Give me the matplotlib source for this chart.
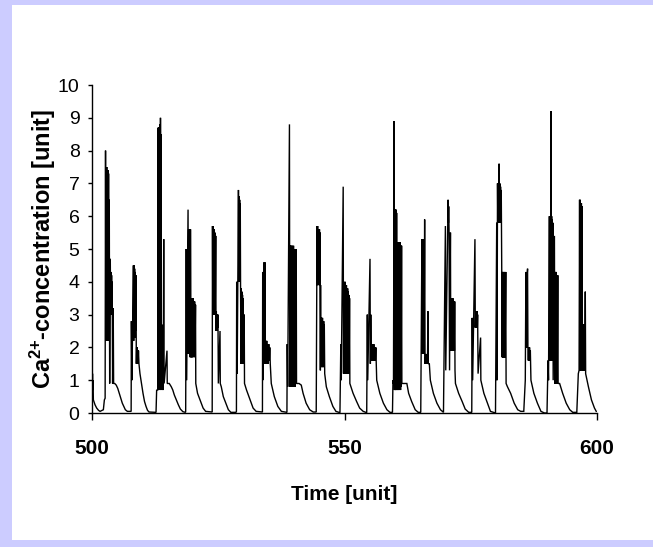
import matplotlib
matplotlib.use("Agg")
import matplotlib.pyplot as plt
from matplotlib.patches import Rectangle

# ---------------- data (time, Ca2+ concentration) ----------------
start = [(500.0, 1.1), (500.05, 0.6), (500.1, 1.2), (500.15, 0.7), (500.2, 1.0), (500.27, 0.4),
         (500.6, 0.25), (500.93, 0.15), (501.3, 0.08), (501.6, 0.05), (502.25, 0.1)]
burst01 = [(502.45, 0.4), (502.6, 0.45), (502.68, 8.0), (502.74, 2.2), (502.8, 7.5), (502.86, 2.3),
           (502.92, 7.5), (502.98, 2.2), (503.04, 7.4), (503.1, 2.4), (503.16, 7.4), (503.22, 2.2),
           (503.28, 7.3), (503.34, 2.3), (503.42, 6.5), (503.5, 0.9), (503.62, 4.7), (503.7, 3.0),
           (503.76, 4.3), (503.82, 3.1), (503.88, 4.2), (503.94, 3.0), (504.0, 4.0), (504.08, 0.9),
           (504.2, 3.2), (504.28, 0.9), (504.5, 0.9), (504.8, 0.85), (505.1, 0.75), (505.4, 0.6),
           (505.7, 0.45), (506.0, 0.3), (506.3, 0.2), (506.6, 0.1), (507.0, 0.05), (507.6, 0.05)]
burst02 = [(507.75, 0.05), (507.8, 2.8), (507.9, 1.0), (508.2, 4.5), (508.26, 2.2), (508.32, 4.5),
           (508.38, 2.4), (508.44, 4.4), (508.5, 2.3), (508.56, 4.3), (508.62, 2.5), (508.7, 4.2),
           (508.78, 1.5), (508.84, 2.0), (508.9, 1.5), (508.96, 2.0), (509.02, 1.5), (509.08, 1.9),
           (509.14, 1.6), (509.2, 1.9), (509.3, 1.5), (509.5, 1.2), (509.8, 0.9), (510.1, 0.6),
           (510.4, 0.35), (510.7, 0.2), (511.0, 0.08), (511.3, 0.03), (512.6, 0.02)]
burst03 = [(512.68, 0.02), (512.8, 0.7), (513.05, 0.7), (513.1, 8.7), (513.16, 0.7), (513.22, 8.7),
           (513.28, 0.8), (513.34, 8.6), (513.4, 1.0), (513.46, 8.8), (513.52, 0.7), (513.56, 9.0),
           (513.62, 2.7), (513.68, 8.5), (513.74, 0.8), (513.8, 2.7), (513.86, 0.7), (513.92, 2.5),
           (513.98, 0.8), (514.04, 2.2), (514.1, 0.7), (514.2, 5.3), (514.28, 0.9), (514.85, 1.9),
           (514.9, 0.9), (515.3, 0.9), (515.7, 0.8), (516.0, 0.7), (516.3, 0.55), (516.7, 0.4),
           (517.1, 0.25), (517.5, 0.12), (518.0, 0.04), (518.5, 0.02)]
burst04 = [(518.55, 0.05), (518.66, 5.0), (518.75, 1.0), (519.02, 6.2), (519.08, 1.8), (519.14, 5.6),
           (519.2, 1.8), (519.26, 5.6), (519.32, 2.0), (519.38, 5.5), (519.44, 1.7), (519.5, 5.6),
           (519.56, 3.5), (519.62, 1.7), (519.68, 3.5), (519.76, 1.7), (519.84, 3.5), (519.92, 1.7),
           (520.0, 3.5), (520.08, 1.8), (520.16, 3.4), (520.24, 1.7), (520.32, 3.4), (520.4, 1.8),
           (520.5, 3.3), (520.55, 0.9), (520.9, 0.6), (521.5, 0.35), (522.0, 0.15), (522.5, 0.05),
           (523.8, 0.03)]
burst05 = [(523.86, 5.7), (523.92, 3.0), (523.98, 5.7), (524.04, 3.0), (524.1, 5.6), (524.16, 3.0),
           (524.22, 5.6), (524.28, 3.1), (524.34, 5.5), (524.4, 3.0), (524.5, 5.4), (524.56, 2.5),
           (524.62, 3.1), (524.7, 2.5), (524.78, 3.0), (524.86, 2.6), (524.94, 3.0), (525.02, 0.9),
           (525.35, 2.5), (525.4, 0.9), (525.6, 0.8), (526.0, 0.5), (526.5, 0.3), (527.0, 0.1),
           (527.5, 0.02), (528.5, 0.02)]
burst06 = [(528.6, 0.05), (528.65, 4.0), (528.75, 1.2), (529.0, 6.8), (529.06, 4.0), (529.12, 6.6),
           (529.18, 4.0), (529.24, 6.5), (529.3, 4.0), (529.36, 6.4), (529.42, 3.8), (529.5, 1.5),
           (529.56, 3.8), (529.62, 1.5), (529.68, 3.7), (529.74, 1.5), (529.8, 3.6), (529.86, 1.5),
           (529.92, 3.5), (529.98, 1.5), (530.14, 3.0), (530.2, 0.9), (530.6, 0.7), (531.3, 0.4),
           (531.9, 0.15), (532.5, 0.05), (533.75, 0.03)]
burst07 = [(533.8, 4.3), (533.88, 1.0), (534.1, 4.6), (534.16, 1.5), (534.22, 4.6), (534.28, 1.6),
           (534.4, 2.2), (534.5, 1.5), (534.6, 2.2), (534.7, 1.5), (534.8, 2.1), (534.9, 1.5),
           (535.0, 2.1), (535.1, 1.6), (535.2, 2.0), (535.3, 1.5), (535.5, 0.9), (536.1, 0.5),
           (536.8, 0.2), (537.5, 0.05), (538.6, 0.02)]
burst08 = [(538.66, 2.1), (538.75, 0.8), (539.1, 8.8), (539.16, 0.8), (539.3, 5.1), (539.36, 0.8),
           (539.42, 5.1), (539.48, 0.9), (539.54, 5.0), (539.6, 0.8), (539.66, 5.1), (539.72, 0.8),
           (539.78, 5.0), (539.84, 0.9), (539.9, 5.1), (539.96, 0.8), (540.02, 5.0), (540.08, 0.9),
           (540.14, 5.0), (540.2, 0.8), (540.26, 5.0), (540.32, 0.9), (540.44, 5.0), (540.5, 0.9),
           (541.0, 0.9), (541.44, 0.85), (541.8, 0.6), (542.4, 0.3), (543.1, 0.1), (543.8, 0.03),
           (544.4, 0.03)]
burst09 = [(544.56, 5.7), (544.62, 3.9), (544.68, 5.7), (544.74, 3.9), (544.8, 5.6), (544.86, 3.9),
           (544.92, 5.6), (544.98, 4.0), (545.04, 5.6), (545.1, 3.9), (545.16, 5.5), (545.22, 1.3),
           (545.26, 3.9), (545.32, 1.4), (545.4, 2.9), (545.46, 1.4), (545.52, 2.9), (545.58, 1.4),
           (545.64, 2.9), (545.7, 1.4), (545.76, 2.8), (545.82, 1.4), (545.88, 2.8), (545.94, 1.4),
           (546.0, 2.7), (546.08, 1.2), (546.4, 0.8), (547.0, 0.5), (547.7, 0.2), (548.3, 0.05),
           (549.1, 0.01)]
burst10 = [(549.27, 2.1), (549.35, 1.0), (549.74, 6.9), (549.8, 1.2), (549.9, 4.0), (549.96, 1.2),
           (550.02, 3.9), (550.08, 1.3), (550.14, 4.0), (550.2, 1.2), (550.26, 3.9), (550.32, 1.3),
           (550.38, 3.9), (550.44, 1.2), (550.5, 3.8), (550.56, 1.3), (550.62, 3.8), (550.68, 1.2),
           (550.74, 3.7), (550.8, 1.3), (550.86, 3.6), (550.92, 1.2), (551.0, 3.5), (551.06, 0.9),
           (551.7, 0.6), (552.4, 0.35), (553.0, 0.15), (553.7, 0.05), (554.4, 0.01)]
burst11 = [(554.52, 3.0), (554.6, 1.0), (555.05, 4.7), (555.12, 1.5), (555.2, 3.0), (555.3, 1.6),
           (555.4, 2.1), (555.5, 1.6), (555.6, 2.1), (555.7, 1.6), (555.8, 2.1), (555.9, 1.6),
           (556.0, 2.0), (556.1, 1.6), (556.2, 2.0), (556.38, 1.0), (557.0, 0.6), (557.7, 0.3),
           (558.4, 0.1), (559.0, 0.02), (559.5, 0.02)]
burst12 = [(559.6, 1.0), (559.7, 0.9), (559.83, 8.9), (559.9, 0.7), (559.96, 6.2), (560.02, 0.7),
           (560.08, 6.2), (560.14, 0.7), (560.2, 6.2), (560.26, 0.7), (560.32, 6.1), (560.38, 0.8),
           (560.44, 5.2), (560.5, 0.7), (560.56, 5.2), (560.62, 0.7), (560.68, 5.2), (560.74, 0.8),
           (560.8, 5.2), (560.86, 0.7), (560.92, 5.2), (560.98, 0.8), (561.04, 5.2), (561.1, 0.7),
           (561.16, 5.1), (561.22, 0.8), (561.3, 5.1), (561.36, 0.9), (562.35, 0.9), (562.7, 0.6),
           (563.3, 0.35), (564.0, 0.1), (564.6, 0.02), (565.1, 0.02)]
burst13 = [(565.33, 5.3), (565.4, 1.8), (565.46, 5.3), (565.52, 1.8), (565.58, 5.3), (565.64, 1.9),
           (565.7, 5.3), (565.76, 1.8), (565.87, 5.9), (565.95, 1.5), (566.05, 1.8), (566.15, 1.5),
           (566.25, 1.8), (566.35, 1.5), (566.45, 1.8), (566.53, 3.1), (566.6, 1.5), (566.8, 1.5),
           (567.0, 1.0), (567.6, 0.6), (568.3, 0.3), (569.0, 0.1), (569.6, 0.02)]
burst14 = [(569.98, 5.7), (570.05, 1.3), (570.51, 6.5), (570.57, 5.8), (570.63, 6.3), (570.7, 5.6),
           (570.8, 1.3), (570.98, 5.5), (571.04, 1.9), (571.1, 3.5), (571.16, 1.9), (571.22, 3.5),
           (571.28, 1.9), (571.34, 3.5), (571.4, 1.9), (571.46, 3.5), (571.52, 1.9), (571.58, 3.4),
           (571.64, 1.9), (571.7, 3.4), (571.76, 1.9), (571.82, 3.4), (571.88, 1.3), (571.97, 0.9),
           (572.6, 0.6), (573.3, 0.35), (573.9, 0.12), (574.6, 0.02), (575.2, 0.02)]
burst15 = [(575.29, 2.9), (575.38, 1.0), (575.83, 5.3), (575.9, 2.6), (576.0, 3.1), (576.06, 2.6),
           (576.12, 3.1), (576.18, 2.6), (576.24, 3.1), (576.3, 2.6), (576.36, 3.0), (576.45, 1.2),
           (576.95, 2.3), (577.0, 1.0), (577.6, 0.6), (578.3, 0.3), (578.9, 0.05), (579.9, 0.0)]
burst16 = [(580.14, 5.8), (580.2, 1.0), (580.3, 7.0), (580.36, 5.8), (580.42, 7.0), (580.48, 5.8),
           (580.54, 7.0), (580.61, 7.6), (580.68, 5.8), (580.76, 7.0), (580.82, 5.8), (580.9, 6.9),
           (580.96, 5.8), (581.04, 6.8), (581.14, 4.3), (581.2, 1.7), (581.26, 4.3), (581.32, 1.7),
           (581.38, 4.3), (581.44, 1.7), (581.5, 4.3), (581.56, 1.7), (581.62, 4.3), (581.68, 1.7),
           (581.74, 4.3), (581.8, 1.7), (581.93, 4.3), (582.0, 0.9), (582.27, 0.8), (582.9, 0.6),
           (583.6, 0.3), (584.3, 0.1), (584.9, 0.05), (585.5, 0.05)]
burst17 = [(585.8, 1.0), (585.92, 4.3), (585.98, 2.0), (586.04, 4.2), (586.1, 2.0), (586.16, 4.2),
           (586.25, 4.4), (586.32, 2.0), (586.4, 1.6), (586.48, 2.0), (586.56, 1.6), (586.64, 2.0),
           (586.72, 1.6), (586.8, 1.9), (586.92, 1.0), (587.5, 0.6), (588.2, 0.3), (588.9, 0.05),
           (589.6, 0.0), (590.1, 0.0)]
burst18 = [(590.3, 1.6), (590.4, 1.0), (590.57, 6.0), (590.63, 1.6), (590.7, 6.0), (590.76, 1.6),
           (590.9, 9.2), (590.96, 1.6), (591.02, 6.0), (591.08, 1.6), (591.14, 5.9), (591.2, 1.6),
           (591.26, 5.8), (591.32, 1.0), (591.57, 5.4), (591.64, 0.9), (591.7, 4.3), (591.76, 0.9),
           (591.82, 4.3), (591.88, 0.9), (591.94, 4.3), (592.0, 0.9), (592.06, 4.2), (592.12, 0.9),
           (592.23, 4.2), (592.3, 0.9), (592.6, 0.9), (593.2, 0.6), (593.9, 0.3), (594.6, 0.1),
           (595.2, 0.02), (596.0, 0.02)]
burst19 = [(596.3, 1.2), (596.45, 1.3), (596.55, 6.5), (596.61, 1.3), (596.67, 6.5), (596.73, 1.3),
           (596.79, 6.4), (596.85, 1.3), (596.91, 6.4), (596.97, 1.4), (597.03, 6.3), (597.09, 1.3),
           (597.15, 2.7), (597.21, 1.3), (597.27, 2.7), (597.33, 1.3), (597.39, 2.7), (597.45, 1.3),
           (597.51, 2.7), (597.57, 1.3), (597.68, 3.7), (597.75, 1.2), (598.3, 0.8), (598.9, 0.4),
           (599.5, 0.15), (599.85, 0.05)]

x_ticks = [500, 550, 600]
y_ticks = [0, 1, 2, 3, 4, 5, 6, 7, 8, 9, 10]
x_label = "Time [unit]"
y_label = "Ca$^{2{+}}$-concentration [unit]"

segments = [start, burst01, burst02, burst03, burst04, burst05, burst06, burst07, burst08,
            burst09, burst10, burst11, burst12, burst13, burst14, burst15, burst16, burst17,
            burst18, burst19]
points = [p for seg in segments for p in seg]
t_vals = [p[0] for p in points]
c_vals = [p[1] for p in points]

# ---------------- figure ----------------
W, H = 653, 547
plt.rcParams["mathtext.default"] = "regular"
plt.rcParams["font.family"] = ["Liberation Sans", "DejaVu Sans"]
fig = plt.figure(figsize=(W / 100, H / 100), dpi=100)
fig.patch.set_facecolor("#CCCCFF")
bg = Rectangle((12 / W, 7 / H), (W - 12) / W, (H - 12) / H,
               transform=fig.transFigure, facecolor="white", edgecolor="none", zorder=-10)
fig.add_artist(bg)

ax = fig.add_axes([92 / W, 1 - 413 / H, 505 / W, 328 / H])
ax.set_zorder(5)
ax.set_facecolor("none")
ax.plot(t_vals, c_vals, color="black", lw=1.0, solid_joinstyle="miter")

ax.set_xlim(500, 600)
ax.set_ylim(0, 10)
for s in ["top", "right"]:
    ax.spines[s].set_visible(False)
for s in ["left", "bottom"]:
    ax.spines[s].set_linewidth(1.0)
    ax.spines[s].set_color("black")

ax.set_xticks(x_ticks)
ax.set_xticklabels([str(v) for v in x_ticks], fontsize=15, fontweight="bold")
ax.set_yticks(y_ticks)
ax.set_yticklabels([str(v) for v in y_ticks], fontsize=14)
ax.tick_params(axis="x", direction="out", length=5, width=1, pad=14)
ax.tick_params(axis="y", direction="out", length=3, width=1, pad=6)

ax.set_xlabel(x_label, fontsize=15, fontweight="bold")
ax.xaxis.set_label_coords(0.5, -0.22)
ax.set_ylabel(y_label, fontsize=17, fontweight="bold")
ax.yaxis.set_label_coords(-0.068, 0.5)

fig.savefig("out.png", dpi=100, facecolor=fig.get_facecolor())
